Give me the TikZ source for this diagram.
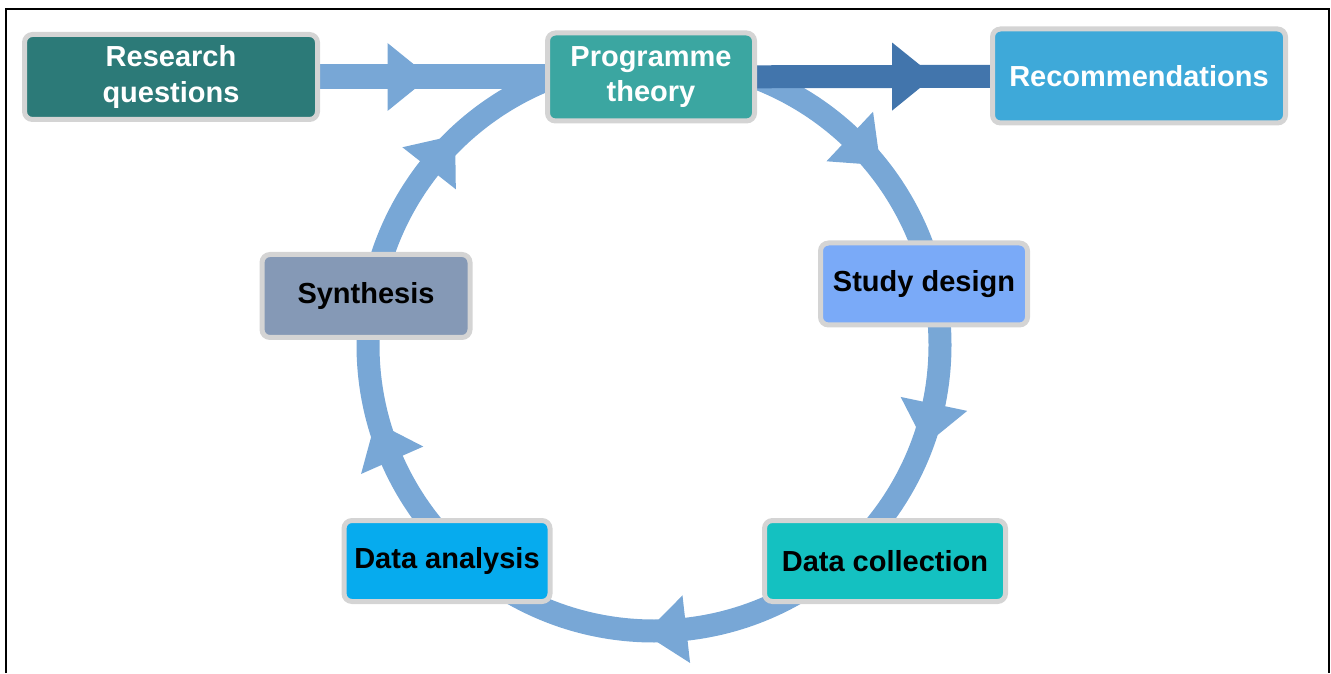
\documentclass[tikz,border=0pt]{standalone}
\usepackage{fontspec}
\setmainfont{Liberation Sans}
\usepackage{xcolor}
\usepackage{tikz}
\usetikzlibrary{positioning, decorations.markings, backgrounds}
\definecolor{tealdark}{HTML}{2C7A78}
\definecolor{tealmid}{HTML}{3BA6A1}
\definecolor{skyrec}{HTML}{3EA9D9}
\definecolor{cornflower}{HTML}{7AAAF8}
\definecolor{slategrey}{HTML}{8599B6}
\definecolor{anablue}{HTML}{06ABEE}
\definecolor{cyanteal}{HTML}{14C1C1}
\definecolor{ringblue}{HTML}{78A7D6}
\definecolor{flowdark}{HTML}{4275AC}
\definecolor{boxrim}{HTML}{D4D4D4}
\newcommand{\headtri}[1]{\fill[#1] (0pt,-34pt) -- (42pt,0pt) -- (0pt,34pt) -- cycle;}

\begin{document}
\begin{tikzpicture}[x=1pt, y=1pt]
		\useasboundingbox (0,0) rectangle (1331,673);
		\tikzstyle{stage}=[draw=boxrim, line width=5pt, rounded corners=8pt, align=center, inner sep=0pt, font=\fontsize{29}{35.5}\selectfont\bfseries]
		\tikzstyle{ring}=[draw=ringblue, line width=23pt, postaction={decorate}, decoration={markings,
			mark=at position 0.12 with {\headtri{ringblue}},
			mark=at position 0.283 with {\headtri{ringblue}},
			mark=at position 0.482 with {\headtri{ringblue}},
			mark=at position 0.684 with {\headtri{ringblue}},
			mark=at position 0.856 with {\headtri{ringblue}}}]
		\tikzstyle{flowl}=[draw=ringblue, line width=25pt, postaction={decorate}, decoration={markings, mark=at position 0.30 with {\headtri{ringblue}}}]
		\tikzstyle{flowd}=[draw=flowdark, line width=23pt, postaction={decorate}, decoration={markings, mark=at position 0.58 with {\headtri{flowdark}}}]
		%% frame, open at the bottom
		\draw[line width=2pt] (6,0) -- (6,664) -- (1329,664) -- (1329,0);
		%%
		\coordinate (ctr) at (654,328);
		\node (resq) at (171,596) [stage, fill=tealdark, text=white, minimum width=293pt, minimum height=85pt] {Research\\questions};
		\node (prog) at (651,596) [stage, fill=tealmid, text=white, minimum width=207pt, minimum height=88pt] {Programme\\theory};
		\node (recs) at (1139,597) [stage, fill=skyrec, text=white, minimum width=293pt, minimum height=94pt] {Recommendations};
		\node (study) at (924,389) [stage, fill=cornflower, text=black, minimum width=207pt, minimum height=82pt] {Study design};
		\node (synth) at (366,377) [stage, fill=slategrey, text=black, minimum width=208pt, minimum height=83pt] {Synthesis};
		\node (anal) at (447,112) [stage, fill=anablue, text=black, minimum width=206pt, minimum height=81pt] {Data analysis};
		\node (coll) at (885,112) [stage, fill=cyanteal, text=black, minimum width=241pt, minimum height=81pt] {Data collection};
		
		\begin{scope}[on background layer]
		\draw[ring] (ctr) ++(90:286pt) arc[start angle=90, end angle=-270, radius=286pt];
		\draw[flowl] (resq) -- (prog);
		\draw[flowd] (prog) -- (recs);
		\end{scope}
		\end{tikzpicture}
\end{document}
